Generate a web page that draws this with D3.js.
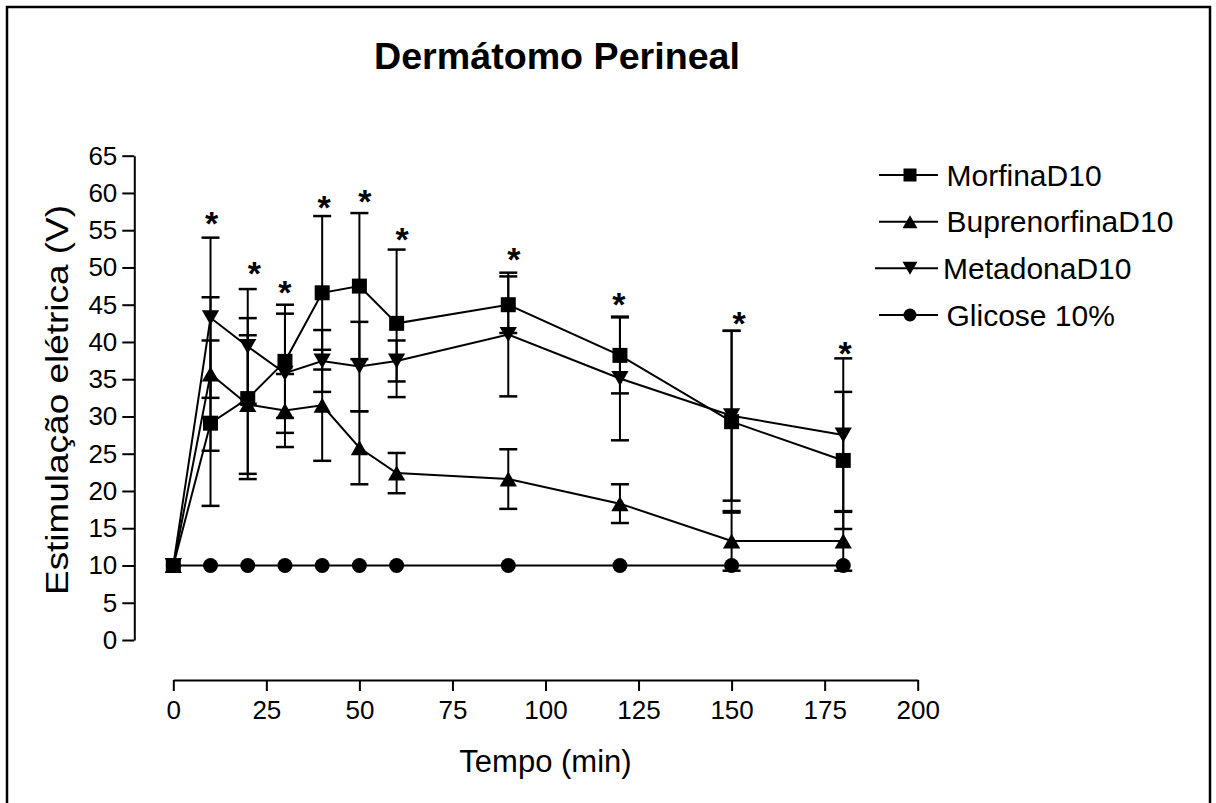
<!DOCTYPE html>
<html>
<head>
<meta charset="utf-8">
<script src="https://cdn.jsdelivr.net/npm/d3@7"></script>
<style>
  body { margin: 0; background: #fff; }
  svg { display: block; }
  text { font-family: "Liberation Sans", Arial, Helvetica, sans-serif; fill: #000; }
</style>
</head>
<body>
<svg id="chart" width="1216" height="803"></svg>
<script>
// Sampling times (min)
const times = [0, 10, 20, 30, 40, 50, 60, 90, 120, 150, 180];

// Mean electrical stimulation threshold (V) and SEM per group
const morfina        = [10, 29.1, 32.4, 37.4, 46.6, 47.5, 42.5, 45.0, 38.2, 29.3, 24.1];
const morfinaSem     = [0, 11.1, 10.8, 7.6, 10.3, 9.8, 9.9, 3.8, 5.1, 12.2, 9.2];
const buprenorfina    = [10, 35.7, 31.6, 30.8, 31.5, 25.8, 22.4, 21.6, 18.3, 13.3, 13.3];
const buprenorfinaSem = [0, 10.3, 9.3, 4.9, 7.45, 4.9, 2.7, 4.0, 2.6, 4.0, 4.0];
const metadona       = [10, 43.25, 39.4, 35.8, 37.45, 36.7, 37.45, 41.0, 35.1, 30.1, 27.5];
const metadonaSem    = [0, 10.75, 7.7, 8.0, 4.15, 6.0, 2.75, 8.3, 8.3, 11.4, 10.3];
const glicose        = [10, 10, 10, 10, 10, 10, 10, 10, 10, 10, 10];
const glicoseSem     = [0, 0, 0, 0, 0, 0, 0, 0, 0, 0, 0];

// Significance markers: horizontal position (min) and height (V)
const starTimes  = [10.3, 21.8, 30, 40.5, 51.5, 61.5, 91.5, 119.7, 152, 180.5];
const starLevels = [57.0, 50.3, 47.7, 59.1, 60.0, 54.8, 52.1, 46.1, 43.5, 39.5];

// Axis ticks
const xTicks = [0, 25, 50, 75, 100, 125, 150, 175, 200];
const yTicks = [0, 5, 10, 15, 20, 25, 30, 35, 40, 45, 50, 55, 60, 65];

const seriesNames = ["MorfinaD10", "BuprenorfinaD10", "MetadonaD10", "Glicose 10%"];
const seriesShapes = ["square", "triangleUp", "triangleDown", "circle"];

const series = [
  { name: seriesNames[0], shape: seriesShapes[0], mean: morfina, sem: morfinaSem },
  { name: seriesNames[1], shape: seriesShapes[1], mean: buprenorfina, sem: buprenorfinaSem },
  { name: seriesNames[2], shape: seriesShapes[2], mean: metadona, sem: metadonaSem },
  { name: seriesNames[3], shape: seriesShapes[3], mean: glicose, sem: glicoseSem }
];

const svg = d3.select("#chart");

// Frame
svg.append("rect")
  .attr("x", 7).attr("y", 7)
  .attr("width", 1203).attr("height", 820)
  .attr("fill", "none").attr("stroke", "#000").attr("stroke-width", 2.5);

const x = d3.scaleLinear().domain([0, 200]).range([173.3, 917.7]);
const y = d3.scaleLinear().domain([0, 65]).range([640, 155.7]);

// Title
svg.append("text")
  .attr("x", 557).attr("y", 69)
  .attr("text-anchor", "middle")
  .attr("font-size", 37).attr("font-weight", "bold")
  .attr("textLength", 366).attr("lengthAdjust", "spacingAndGlyphs")
  .text("Dermátomo Perineal");

// Y axis
const yAxis = svg.append("g")
  .attr("transform", "translate(134.3,0)")
  .call(d3.axisLeft(y).tickValues(yTicks).tickSize(12).tickSizeOuter(0).tickPadding(5).tickFormat(d3.format("d")));

// X axis (offset below the plot)
const xAxis = svg.append("g")
  .attr("transform", "translate(0,680)")
  .call(d3.axisBottom(x).tickValues(xTicks).tickSize(11).tickSizeOuter(0).tickPadding(9.5).tickFormat(d3.format("d")));

[yAxis, xAxis].forEach(g => {
  g.select(".domain").attr("stroke", "#000").attr("stroke-width", 2);
  g.selectAll(".tick line").attr("stroke", "#000").attr("stroke-width", 2);
  g.selectAll(".tick text")
    .attr("font-size", 26)
    .attr("font-family", "'Liberation Sans', Arial, sans-serif")
    .attr("fill", "#000");
});

// Axis titles
svg.append("text")
  .attr("x", 545.5).attr("y", 772)
  .attr("text-anchor", "middle")
  .attr("font-size", 31)
  .text("Tempo (min)");

svg.append("text")
  .attr("transform", "translate(68,400) rotate(-90)")
  .attr("text-anchor", "middle")
  .attr("font-size", 31)
  .attr("textLength", 390).attr("lengthAdjust", "spacingAndGlyphs")
  .text("Estimulação elétrica (V)");

// Marker shapes
function markerPath(shape, s) {
  const h = s / 2;
  switch (shape) {
    case "square":
      return `M${-h},${-h}H${h}V${h}H${-h}Z`;
    case "triangleUp":
      return `M0,${-h}L${h * 1.15},${h}L${-h * 1.15},${h}Z`;
    case "triangleDown":
      return `M0,${h}L${h * 1.15},${-h}L${-h * 1.15},${-h}Z`;
    default:
      return `M${h},0A${h},${h} 0 1,1 ${-h},0A${h},${h} 0 1,1 ${h},0Z`;
  }
}

const plot = svg.append("g");
const capHalf = 9;

// Error bars
series.forEach(s => {
  const g = plot.append("g").attr("stroke", "#000").attr("stroke-width", 2);
  times.forEach((t, i) => {
    const e = s.sem[i];
    if (!e) return;
    const cx = x(t);
    const top = y(s.mean[i] + e), bot = y(s.mean[i] - e);
    g.append("line").attr("x1", cx).attr("x2", cx).attr("y1", top).attr("y2", bot);
    g.append("line").attr("x1", cx - capHalf).attr("x2", cx + capHalf).attr("y1", top).attr("y2", top).attr("stroke-width", 2.5);
    g.append("line").attr("x1", cx - capHalf).attr("x2", cx + capHalf).attr("y1", bot).attr("y2", bot).attr("stroke-width", 2.5);
  });
});

// Connecting lines
const line = d3.line().x((d, i) => x(times[i])).y(d => y(d));
series.forEach(s => {
  plot.append("path")
    .attr("d", line(s.mean))
    .attr("fill", "none").attr("stroke", "#000").attr("stroke-width", 2);
});

// Markers
series.forEach(s => {
  plot.append("g").selectAll("path")
    .data(s.mean)
    .join("path")
    .attr("transform", (d, i) => `translate(${x(times[i])},${y(d)})`)
    .attr("d", markerPath(s.shape, 15))
    .attr("fill", "#000");
});

// Significance asterisks
const starSize = 34;
svg.append("g").selectAll("text")
  .data(starTimes)
  .join("text")
  .attr("x", d => x(d))
  .attr("y", (d, i) => y(starLevels[i]) + 0.575 * starSize)
  .attr("text-anchor", "middle")
  .attr("font-size", starSize)
  .attr("font-weight", "bold")
  .text("*");

// Legend
const legendRows = [175, 221.7, 268.3, 315];
const legend = svg.append("g");
series.forEach((s, i) => {
  const ly = legendRows[i];
  const row = legend.append("g");
  row.append("line")
    .attr("x1", i === 2 ? 875 : 879).attr("x2", 938)
    .attr("y1", ly).attr("y2", ly)
    .attr("stroke", "#000").attr("stroke-width", 2);
  row.append("path")
    .attr("transform", `translate(910,${ly})`)
    .attr("d", markerPath(s.shape, 13))
    .attr("fill", "#000");
  row.append("text")
    .attr("x", i === 2 ? 943 : 946.5)
    .attr("y", ly + 10.5)
    .attr("font-size", 30)
    .text(s.name);
});
</script>
</body>
</html>
